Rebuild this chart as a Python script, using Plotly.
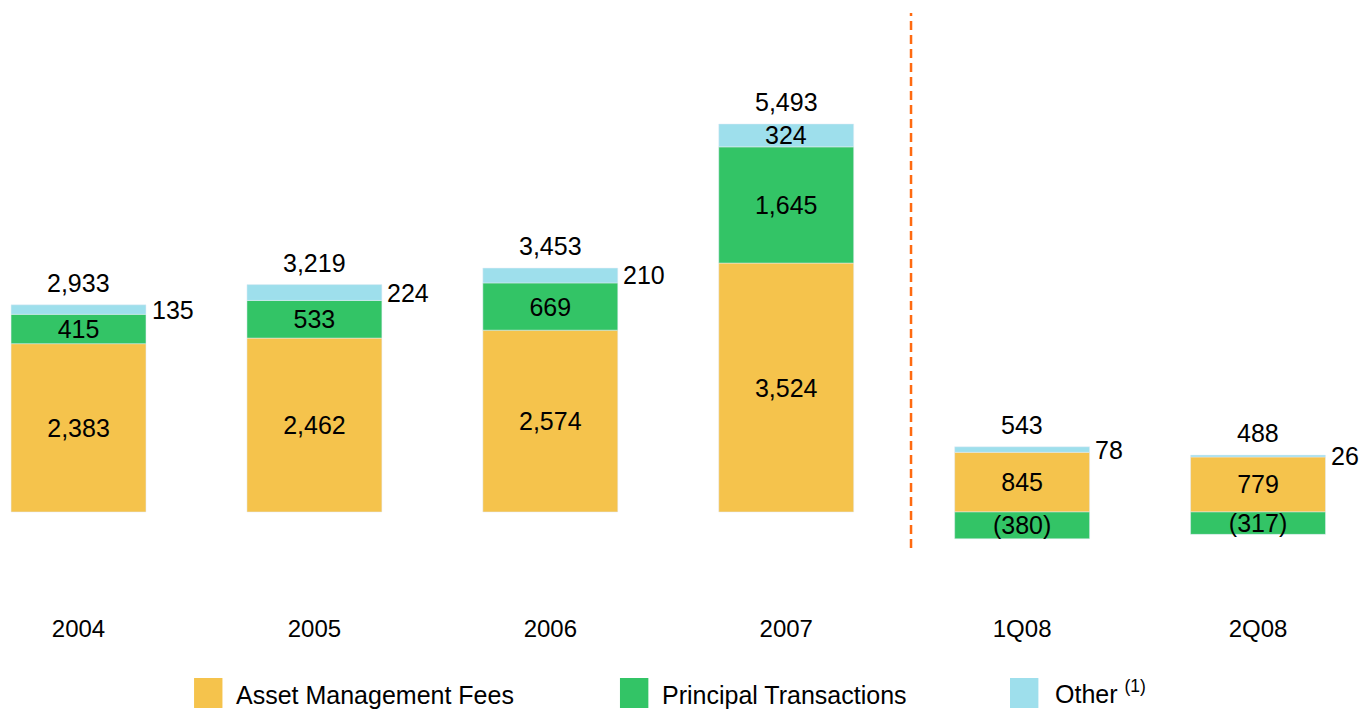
import plotly.graph_objects as go

categories = ["2004", "2005", "2006", "2007", "1Q08", "2Q08"]
asset_mgmt = [2383, 2462, 2574, 3524, 845, 779]
principal = [415, 533, 669, 1645, -380, -317]
other = [135, 224, 210, 324, 78, 26]
totals = [2933, 3219, 3453, 5493, 543, 488]
series_names = ["Asset Management Fees", "Principal Transactions", "Other <sup>(1)</sup>"]

C_ASSET = "#F5C34C"
C_PRIN = "#33C466"
C_OTHER = "#9EDFEC"
FONT = "Liberation Sans, Arial, sans-serif"
FS = 25


def fmt(v):
    return f"({abs(v):,})" if v < 0 else f"{v:,}"


fig = go.Figure()
common = dict(textposition="inside", insidetextanchor="middle", constraintext="none",
              textfont=dict(color="black", size=FS, family=FONT), showlegend=False,
              hoverinfo="skip")
fig.add_trace(go.Bar(x=categories, y=asset_mgmt, marker_color=C_ASSET, name=series_names[0],
                     text=[fmt(v) for v in asset_mgmt], **common))
fig.add_trace(go.Bar(x=categories, y=principal, marker_color=C_PRIN, name=series_names[1],
                     text=[fmt(v) for v in principal], **common))
fig.add_trace(go.Bar(x=categories, y=other, marker_color=C_OTHER, name=series_names[2],
                     showlegend=False, hoverinfo="skip"))

annotations = []
for i, cat in enumerate(categories):
    pos_top = asset_mgmt[i] + max(principal[i], 0) + other[i]
    mid = asset_mgmt[i] + max(principal[i], 0) + other[i] / 2
    annotations.append(dict(x=i, y=pos_top, xref="x", yref="y", text=f"{totals[i]:,}",
                            showarrow=False, yanchor="bottom", yshift=6,
                            font=dict(size=FS, color="black", family=FONT)))
    if other[i] > 300:
        # tall enough: label inside the segment
        annotations.append(dict(x=i, y=mid, xref="x", yref="y", text=fmt(other[i]),
                                showarrow=False, xanchor="center", yanchor="middle",
                                font=dict(size=FS, color="black", family=FONT)))
    else:
        annotations.append(dict(x=i, y=mid, xref="x", yref="y", text=fmt(other[i]),
                                showarrow=False, xanchor="left", yanchor="middle", xshift=71,
                                font=dict(size=FS, color="black", family=FONT)))

# separator between annual and quarterly figures
fig.add_shape(type="line", xref="x", yref="y", x0=3.529, x1=3.529, y0=-510, y1=7064,
              line=dict(color="#FF6A10", width=2.5, dash="9px,5px"))

# legend with large square swatches (drawn in paper coordinates)
legend_sw_x = [0.1369, 0.4503, 0.7373]
legend_txt_x = [0.1664, 0.4798, 0.7690]
legend_yshift = [0, 0, 3]
for name, col, sx, tx, ys in zip(series_names, [C_ASSET, C_PRIN, C_OTHER], legend_sw_x,
                                 legend_txt_x, legend_yshift):
    fig.add_shape(type="rect", xref="paper", yref="paper", x0=sx, x1=sx + 0.0209,
                  y0=-0.1589, y1=-0.1093, line=dict(width=0), fillcolor=col)
    annotations.append(dict(x=tx, y=-0.1374, xref="paper", yref="paper", text=name,
                            showarrow=False, xanchor="left", yanchor="middle", yshift=ys,
                            font=dict(size=FS, color="black", family=FONT)))

fig.update_layout(
    width=1359, height=704,
    barmode="relative", bargap=0.428,
    plot_bgcolor="white", paper_bgcolor="white",
    margin=dict(l=0, r=0, t=0, b=100),
    font=dict(family=FONT, size=FS, color="black"),
    annotations=annotations,
    showlegend=False,
)
fig.update_xaxes(range=[-0.2989, 5.4619], showgrid=False, zeroline=False, showline=False,
                 ticks="", tickfont=dict(size=24, color="black", family=FONT))
fig.update_yaxes(range=[-1416, 7135], visible=False, showgrid=False, zeroline=False)

fig.write_html("out.html")
